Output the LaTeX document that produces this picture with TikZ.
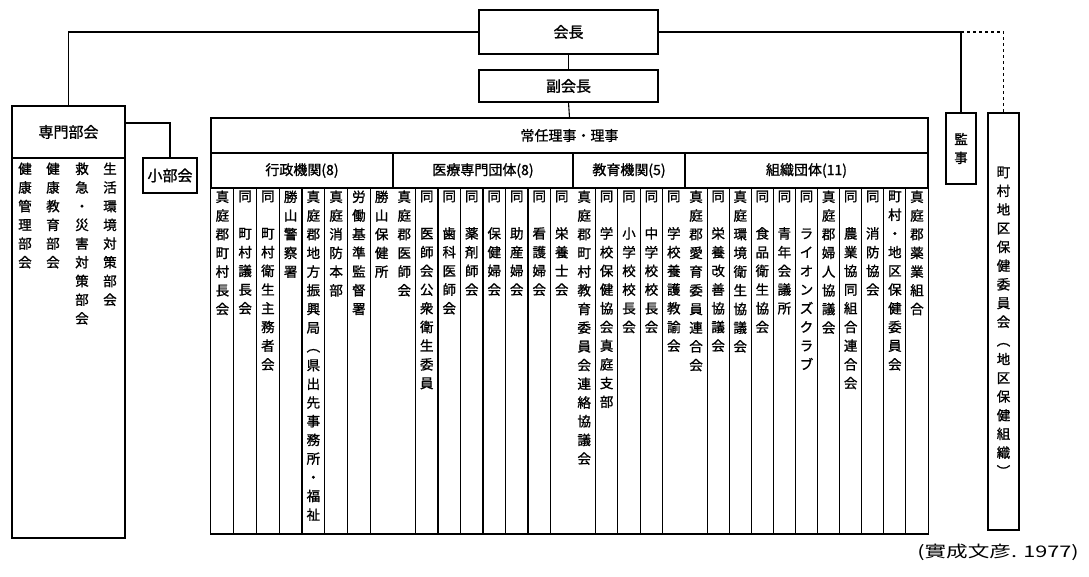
\documentclass[tikz,border=0pt]{standalone}
\usepackage{fontspec}
\usepackage{graphicx}
\newfontfamily\jp{Noto Sans CJK JP}[FakeBold=1.2]
\newfontfamily\jpr{Noto Sans CJK JP}
\usetikzlibrary{calc}
\def\vcend{VCEND}
\newcommand\vcrow[1]{\hbox to 16pt{\hss#1\hss}}
\def\vcloop#1{\ifx#1\vcend\else\ifx#1*\hbox to 16pt{\hfil}\else\vcrow{#1}\fi\expandafter\vcloop\fi}
\newcommand\vtext[1]{\vbox{\baselineskip=18.7pt\lineskip=0pt\lineskiplimit=-30pt\expandafter\vcloop#1\vcend}}
\begin{document}
\begin{tikzpicture}[x=1pt,y=-1pt,line width=1.1pt,
  box/.style={draw, inner sep=0pt, font=\jp\fontsize{15}{15}\selectfont},
  catbox/.style={draw, inner sep=0pt, minimum height=35pt, font=\jp\fontsize{14}{14}\selectfont},
  col/.style={anchor=north, inner sep=0pt, font=\jp\fontsize{13.5}{13.5}\selectfont},
  dots/.style={dash pattern=on 3pt off 3pt}]
\useasboundingbox (0,0) rectangle (1089,577);

% top
\node[box, minimum width=179pt, minimum height=44pt] (kaicho) at (568.5,32) {会長};
\node[box, minimum width=179pt, minimum height=32pt] (fuku) at (568.5,86) {副会長};

% left
\node[box, minimum width=113pt, minimum height=52pt] (senmon) at (68.5,132) {専門部会};
\node[box, minimum width=113pt, minimum height=380pt] (senmonbody) at (68.5,348) {};
\node[box, minimum width=54pt, minimum height=35pt] (shobu) at (170,175.5) {小部会};
\foreach [count=\i] \t/\x in {健康管理部会/25, 健康教育部会/53, 救急・災害対策部会/82, 生活環境対策部会/110}
  \node[col] (sb\i) at (\x,162) {\vtext{\t}};

% right
\node[box, minimum width=30pt, minimum height=71pt] (kansa) at (961,148.5) {\fontsize{13.5}{13.5}\selectfont\vtext{監事}};
\node[box, minimum width=31pt, minimum height=417pt] (chouson) at (1003.5,321.5) {\fontsize{13.5}{13.5}\selectfont\vtext{町村地区保健委員会︵地区保健組織︶}};

% main table
\node[catbox, minimum width=717pt, font=\jp\fontsize{14}{14}\selectfont] (jonin) at (569.5,135.5) {常任理事・理事};
\node[catbox, minimum width=182pt] (cat1) at (302,170.5) {行政機関(8)};
\node[catbox, minimum width=180pt] (cat2) at (483,170.5) {医療専門団体(8)};
\node[catbox, minimum width=112pt] (cat3) at (629,170.5) {教育機関(5)};
\node[catbox, minimum width=243pt] (cat4) at (806.5,170.5) {組織団体(11)};
\draw (cat1.south west) rectangle (cat4.south east |- 0,534);
\foreach \L/\w/\n in {211/22.75/8, 393/22.5/8, 573/22.4/5, 685/22.0909/11}{
  \pgfmathtruncatemacro\m{\n-1}
  \foreach \i in {1,...,\m} \draw ({\L+\i*\w},188) -- ({\L+\i*\w},534);
}
\foreach [count=\i] \t in {真庭郡町村長会, 同*町村議長会, 同*町村衛生主務者会, 勝山警察署, 真庭郡地方振興局︵県出先事務所・福祉, 真庭消防本部, 労働基準監督署, 勝山保健所}
  \node[col] (a\i) at ({211+(\i-0.5)*22.75},190) {\vtext{\t}};
\foreach [count=\i] \t in {真庭郡医師会, 同*医師会公衆衛生委員, 同*歯科医師会, 同*薬剤師会, 同*保健婦会, 同*助産婦会, 同*看護婦会, 同*栄養士会}
  \node[col] (b\i) at ({393+(\i-0.5)*22.5},190) {\vtext{\t}};
\foreach [count=\i] \t in {真庭郡町村教育委員会連絡協議会, 同*学校保健協会真庭支部, 同*小学校校長会, 同*中学校校長会, 同*学校養護教諭会}
  \node[col] (c\i) at ({573+(\i-0.5)*22.4},190) {\vtext{\t}};
\foreach [count=\i] \t in {真庭郡愛育委員連合会, 同*栄養改善協議会, 真庭環境衛生協議会, 同*食品衛生協会, 同*青年会議所, 同*ライオンズクラブ, 真庭郡婦人協議会, 同*農業協同組合連合会, 同*消防協会, 町村・地区保健委員会, 真庭郡薬業組合}
  \node[col] (d\i) at ({685+(\i-0.5)*22.0909},190) {\vtext{\t}};

% connectors
\draw (kaicho.south) -- (fuku.north);
\draw (fuku.south) -- (jonin.north);
\draw (kaicho.west) -| (senmon.north);
\draw (kaicho.east) -| (kansa.north);
\draw[dots] (kansa.north |- kaicho.east) -| (chouson.north);
\draw ($(senmon.north east)!0.33!(senmon.south east)$) -| (shobu.north);

% citation
\node[inner sep=0pt, font=\jpr\fontsize{16}{16}\selectfont] (cite) at (998,552) {\scalebox{1.35}[1]{(實成文彦. 1977)}};
\end{tikzpicture}
\end{document}
